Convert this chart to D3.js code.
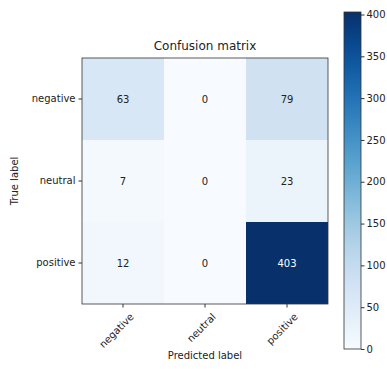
<!DOCTYPE html>
<html>
<head>
<meta charset="utf-8">
<script src="https://cdn.jsdelivr.net/npm/d3@7"></script>
<style>
  body { margin: 0; background: #fff; }
  text { font-family: "DejaVu Sans", sans-serif; fill: #222; }
</style>
</head>
<body>
<div id="chart"></div>
<script>
const labels = ["negative", "neutral", "positive"]
const matrix = [
  [63, 0, 79],
  [7, 0, 23],
  [12, 0, 403]
]
const cbTicks = [0, 50, 100, 150, 200, 250, 300, 350, 400]

const width = 387, height = 369
const svg = d3.select("#chart").append("svg")
  .attr("width", width)
  .attr("height", height)

const mLeft = 82, mTop = 58, size = 246

const x = d3.scaleBand().domain(labels).range([mLeft, mLeft + size])
const y = d3.scaleBand().domain(labels).range([mTop, mTop + size])
const vmax = d3.max(matrix.flat())
const color = d3.scaleSequential(d3.interpolateBlues).domain([0, vmax])

const cells = []
matrix.forEach((row, i) => row.forEach((v, j) => cells.push({ t: labels[i], p: labels[j], v })))

svg.append("g").selectAll("rect")
  .data(cells)
  .enter()
  .append("rect")
  .attr("x", d => x(d.p))
  .attr("y", d => y(d.t))
  .attr("width", x.bandwidth())
  .attr("height", y.bandwidth())
  .attr("fill", d => color(d.v))

svg.append("g").selectAll("text")
  .data(cells)
  .enter()
  .append("text")
  .attr("x", d => x(d.p) + x.bandwidth() / 2)
  .attr("y", d => y(d.t) + y.bandwidth() / 2)
  .attr("text-anchor", "middle")
  .attr("dy", "0.35em")
  .attr("font-size", 10)
  .style("fill", d => d.v > vmax / 2 ? "#fff" : "#222")
  .text(d => d.v)

svg.append("rect")
  .attr("x", mLeft).attr("y", mTop)
  .attr("width", size).attr("height", size)
  .attr("fill", "none").attr("stroke", "#333").attr("stroke-width", 0.8)

// axes
const yAxis = svg.append("g")
  .attr("transform", `translate(${mLeft},0)`)
  .call(d3.axisLeft(y).tickSize(3.5).tickPadding(3))
yAxis.select(".domain").remove()
yAxis.selectAll("text").attr("font-size", 10).style("fill", "#222")
yAxis.selectAll("line").attr("stroke", "#333")

const xAxis = svg.append("g")
  .attr("transform", `translate(0,${mTop + size})`)
  .call(d3.axisBottom(x).tickSize(3.5).tickPadding(3))
xAxis.select(".domain").remove()
xAxis.selectAll("line").attr("stroke", "#333")
xAxis.selectAll("text")
  .attr("font-size", 10)
  .style("fill", "#222")
  .attr("text-anchor", "end")
  .attr("dy", "0.35em")
  .attr("transform", "translate(9,11) rotate(-45)")
  .attr("y", 0)
  .attr("x", 0)

svg.append("text")
  .attr("x", mLeft + size / 2).attr("y", mTop - 8)
  .attr("text-anchor", "middle")
  .attr("font-size", 12)
  .text("Confusion matrix")

svg.append("text")
  .attr("x", mLeft + size / 2).attr("y", 359)
  .attr("text-anchor", "middle")
  .attr("font-size", 10)
  .text("Predicted label")

svg.append("text")
  .attr("transform", `translate(18,${mTop + size / 2}) rotate(-90)`)
  .attr("text-anchor", "middle")
  .attr("font-size", 10)
  .text("True label")

// colorbar
const cbX = 344, cbW = 17, cbTop = 12, cbBottom = 349
const cbScale = d3.scaleLinear().domain([0, vmax]).range([cbBottom, cbTop])

const grad = svg.append("defs").append("linearGradient")
  .attr("id", "cb").attr("x1", 0).attr("y1", 1).attr("x2", 0).attr("y2", 0)
grad.selectAll("stop")
  .data(d3.range(0, 1.0001, 0.05))
  .enter()
  .append("stop")
  .attr("offset", d => d)
  .attr("stop-color", d => color(d * vmax))

svg.append("rect")
  .attr("x", cbX).attr("y", cbTop)
  .attr("width", cbW).attr("height", cbBottom - cbTop)
  .attr("fill", "url(#cb)")
  .attr("stroke", "#333").attr("stroke-width", 0.8)

const cbAxis = svg.append("g")
  .attr("transform", `translate(${cbX + cbW},0)`)
  .call(d3.axisRight(cbScale).tickValues(cbTicks).tickSize(3.5).tickPadding(2))
cbAxis.select(".domain").remove()
cbAxis.selectAll("line").attr("stroke", "#333")
cbAxis.selectAll("text").attr("font-size", 10).style("fill", "#222")
</script>
</body>
</html>
